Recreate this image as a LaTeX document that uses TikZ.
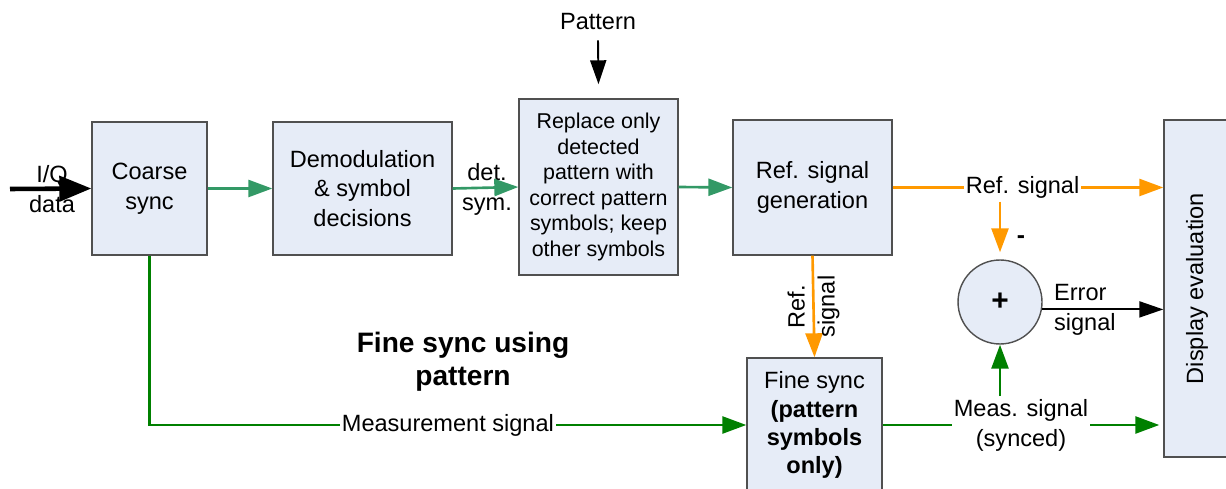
\documentclass[tikz,border=0pt]{standalone}
\usepackage{fontspec}
\setmainfont{Liberation Sans}
\usetikzlibrary{arrows.meta,calc}
\definecolor{boxfill}{RGB}{230,236,247}
\definecolor{boxline}{RGB}{80,80,80}
\definecolor{flowgreen}{RGB}{51,153,102}
\definecolor{measgreen}{RGB}{0,128,0}
\definecolor{reforange}{RGB}{255,153,0}
\tikzset{
    block/.style={draw=boxline, line width=0.8pt, fill=boxfill, align=center, inner sep=2pt, font=\fontsize{13.4}{17}\selectfont},
    link/.style={line width=1.5pt, -{Triangle[length=0.48cm,width=0.34cm]}},
    lbl/.style={align=center, inner sep=1pt, text=black, font=\fontsize{13.4}{17}\selectfont}
}

\begin{document}
\begin{tikzpicture}[x=0.02cm, y=-0.02cm]
    \useasboundingbox (0,0) rectangle (1226,489);
    \clip (0,0) rectangle (1226,489);
    \node[block, minimum width=2.3cm, minimum height=2.66cm] (coarse) at (149.5,188.5) {Coarse\\sync};
    \node[block, minimum width=3.58cm, minimum height=2.66cm] (demod) at (362.5,188.5) {Demodulation\\\& symbol\\decisions};
    \node[block, minimum width=3.18cm, minimum height=3.52cm, font=\fontsize{12.2}{14.5}\selectfont] (replace) at (598.5,187) {Replace only\\detected\\pattern with\\correct pattern\\symbols; keep\\other symbols};
    \node[block, minimum width=3.18cm, minimum height=2.7cm] (refgen) at (812.5,187.5) {Ref. signal\\generation};
    \node[block, minimum width=2.7cm, minimum height=2.68cm, font=\fontsize{13.4}{16}\selectfont] (finesync) at (814.5,425) {Fine sync\\\textbf{(pattern}\\\textbf{symbols}\\\textbf{only)}};
    \node[block, rotate=90, minimum width=6.74cm, minimum height=1.32cm] (display) at (1197,288.5) {Display evaluation};
    \node[block, circle, minimum size=1.68cm, font=\fontsize{17}{17}\selectfont\bfseries] (sum) at (1000,302) {+};
    \node[lbl] (pattern) at (598,22) {Pattern};
    \node[lbl] (iqlbl) at (52,189) {I/Q\\data};
    \node[lbl] (detlbl) at (487,189) {det.\\sym.};
    \node[lbl, font=\fontsize{16}{19}\selectfont\bfseries] (title) at (463,362) {Fine sync using\\pattern};
    \node[lbl, font=\fontsize{14}{17}\selectfont\bfseries] (minus) at (1021,240) {-};
    \node[lbl, anchor=west, align=left] (errlbl) at (1052,310) {Error\\signal};
    \coordinate (iqstart) at (10,189);

    \draw[line width=2.6pt, -{Triangle[length=0.64cm,width=0.5cm]}] (iqstart) -- (coarse.west);
    \draw[link, flowgreen] (coarse.east) -- (demod.west);
    \draw[link, flowgreen] (demod.east) -- (replace.west);
    \draw[link, flowgreen] (replace.east) -- (refgen.west);
    \draw[line width=1.1pt, -{Triangle[length=0.48cm,width=0.32cm]}] (pattern.south) ++(0,8) -- ($(replace.north)+(0,-14)$);
    \draw[link, reforange] (refgen.east) -- (display.north |- refgen.east) node[lbl, pos=0.48, fill=white] (reflbl) {Ref. signal};
    \draw[link, reforange] (reflbl.south -| sum.north) -- ($(sum.north)+(0,-7)$);
    \draw[link, reforange] (refgen.south) -- (finesync.north) node[lbl, midway, rotate=90] {Ref.\\signal};
    \draw[line width=1.1pt, -{Triangle[length=0.48cm,width=0.32cm]}] (sum.-10) -- (sum.-10 -| display.north);
    \draw[link, measgreen] (coarse.south) |- (finesync.west) node[lbl, pos=0.75, fill=white] {Measurement signal};
    \draw[link, measgreen] (finesync.east) -- ($(finesync.east -| display.north)+(-4,0)$) node[lbl, pos=0.5, fill=white] (measlbl) {Meas. signal\\(synced)};
    \draw[link, measgreen] (measlbl.north -| sum.south) -- (sum.south);
\end{tikzpicture}
\end{document}
